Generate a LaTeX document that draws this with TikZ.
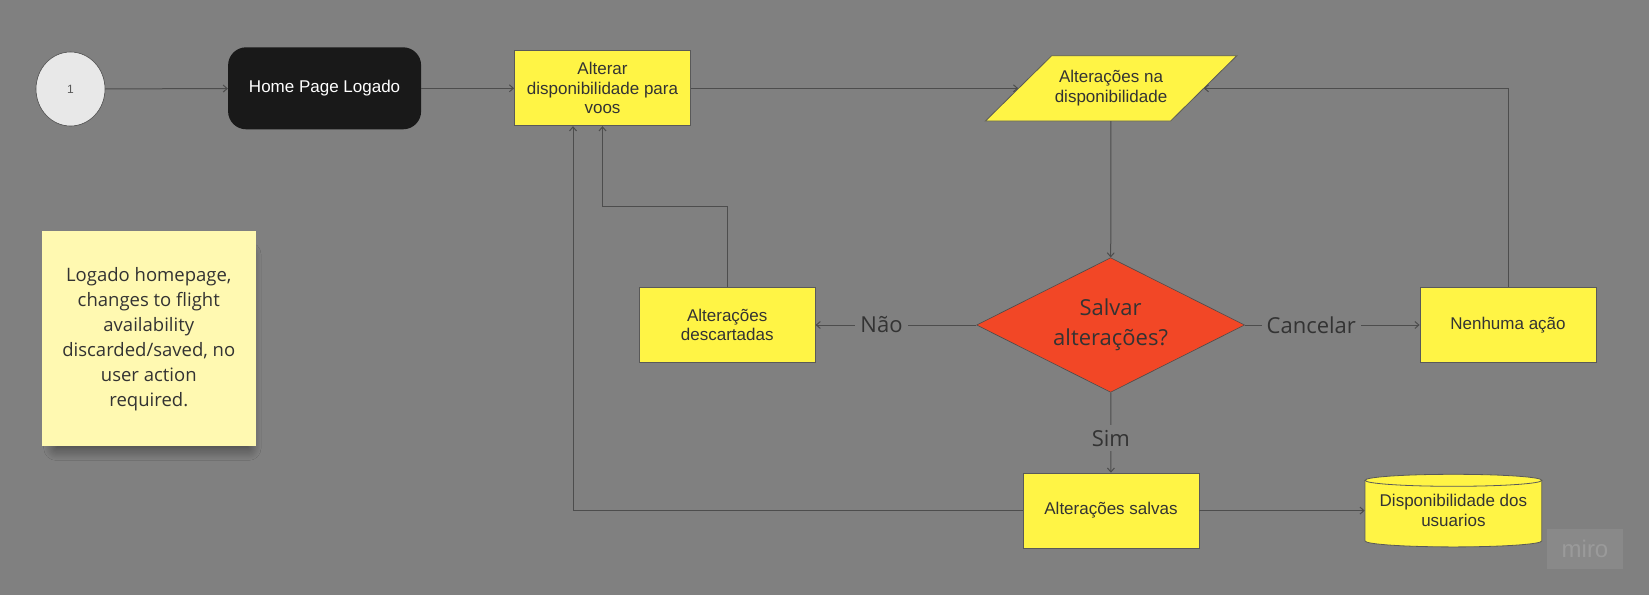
\documentclass[tikz,border=0pt]{standalone}
\usepackage{fontspec}
\setmainfont{Liberation Sans}
\newfontfamily\notefont{Open Sans}
\usepackage{tikz}
\usetikzlibrary{shapes.geometric,arrows.meta,shadows.blur}

\definecolor{canvas}{HTML}{808080}
\definecolor{boxyellow}{HTML}{FFF445}
\definecolor{decisionred}{HTML}{F24726}
\definecolor{stickyyellow}{HTML}{FFF9B1}
\definecolor{linegray}{HTML}{4D4D4D}
\definecolor{textdark}{HTML}{333333}

\begin{document}
\begin{tikzpicture}[x=1pt,y=-1pt,
		flowline/.style={draw=linegray,line width=1pt,-{Straight Barb[length=4pt,width=7pt]}},
		procbox/.style={rectangle,draw=black!65,line width=0.8pt,fill=boxyellow,minimum width=176pt,minimum height=75pt,align=center,text=textdark,inner sep=2pt,font=\fontsize{17}{19.5}\selectfont},
		choicelabel/.style={fill=canvas,text=textdark,inner sep=5pt,font=\notefont\fontsize{22}{26}\selectfont}]
				\fill [canvas] (0,0) rectangle (1649,595);
				\useasboundingbox (0,0) rectangle (1649,595);

				\node [ellipse,draw=black!70,line width=0.6pt,fill=black!9,minimum width=69pt,minimum height=74pt,text=black!65,font=\fontsize{12}{14}\selectfont] (start) at (70.5,89) {1};
				\node [rectangle,rounded corners=18pt,fill=black!90,minimum width=193pt,minimum height=82pt,text=white,font=\fontsize{17}{19.5}\selectfont] (home) at (324.6,88.3) {Home Page Logado};
				\node [procbox] (alterar) at (602.5,88.3) {Alterar\\disponibilidade para\\voos};

				\draw [black!65,line width=0.8pt,fill=boxyellow] (1051.7,55.7) -- (1236.8,55.7) -- (1170.6,121) -- (985.4,121) -- cycle;
				\node [rectangle,minimum width=185.2pt,minimum height=65.3pt,inner sep=1pt,align=center,text=textdark,font=\fontsize{17}{19.5}\selectfont] (mudancas) at (1111,88.3) {Alterações na\\disponibilidade};

				\node [diamond,aspect=2,draw=black!70,line width=0.6pt,fill=decisionred,minimum width=268pt,minimum height=134.6pt,inner sep=0pt,align=center,text=textdark,font=\notefont\fontsize{22}{30}\selectfont] (decisao) at (1110.6,325) {Salvar\\alterações?};
				\node [procbox] (descartadas) at (727.2,325) {Alterações\\descartadas};
				\node [procbox] (nenhuma) at (1508,325) {Nenhuma ação};
				\node [procbox] (salvas) at (1111,510.6) {Alterações salvas};

				\begin{scope}[shift={(1453.4,510.6)}]
					\fill [boxyellow] (-88.4pt,30.3pt) rectangle (88.4pt,-30.3pt);
					\fill [boxyellow] (0pt,-30.3pt) ellipse [x radius=88.4pt,y radius=6pt];
					\draw [black!65,line width=0.8pt] (-88.4pt,30.3pt) -- (-88.4pt,-30.3pt) arc [start angle=180,end angle=360,x radius=88.4pt,y radius=6pt] -- (88.4pt,30.3pt);
					\draw [black!65,line width=0.8pt,fill=boxyellow] (0pt,30.3pt) ellipse [x radius=88.4pt,y radius=6pt];
				\end{scope}
				\node [rectangle,minimum width=177pt,minimum height=73pt,align=center,text=textdark,font=\fontsize{17}{19.5}\selectfont] (db) at (1453.4,510.6) {Disponibilidade dos\\usuarios};

				\node [rectangle,fill=stickyyellow,minimum width=213.6pt,minimum height=214.6pt,align=center,text=textdark,font=\notefont\fontsize{18.5}{25}\selectfont,blur shadow={shadow xshift=4pt,shadow yshift=-14pt,shadow opacity=55,shadow blur radius=14pt,shadow blur steps=12,shadow scale=0.9}] (note) at (148.8,338.7) {Logado homepage,\\changes to flight\\availability\\discarded/saved, no\\user action\\required.};

				\node [rectangle,fill=white,fill opacity=0.08,text opacity=0.15,text=white,minimum width=76pt,minimum height=40pt,font=\fontsize{24}{26}\selectfont] (marca) at (1585,549) {miro};

				\draw [flowline] (start) -- (home);
				\draw [flowline] (home) -- (alterar);
				\draw [flowline] (alterar) -- (mudancas);
				\draw [flowline] (mudancas) -- (decisao);
				\draw [flowline] (decisao) -- node [choicelabel,pos=0.59] {Não} (descartadas);
				\draw [flowline] (decisao) -- node [choicelabel,pos=0.38] {Cancelar} (nenhuma);
				\draw [flowline] (decisao) -- node [choicelabel,pos=0.57] {Sim} (salvas);
				\draw [flowline] (descartadas.north) -- ++(0,-80.3) -| (alterar.south);
				\draw [flowline] (salvas.west) -| ([xshift=-29.5pt]alterar.south);
				\draw [flowline] (nenhuma.north) |- (mudancas);
				\draw [flowline] (salvas) -- (db);
		\end{tikzpicture}
\end{document}
